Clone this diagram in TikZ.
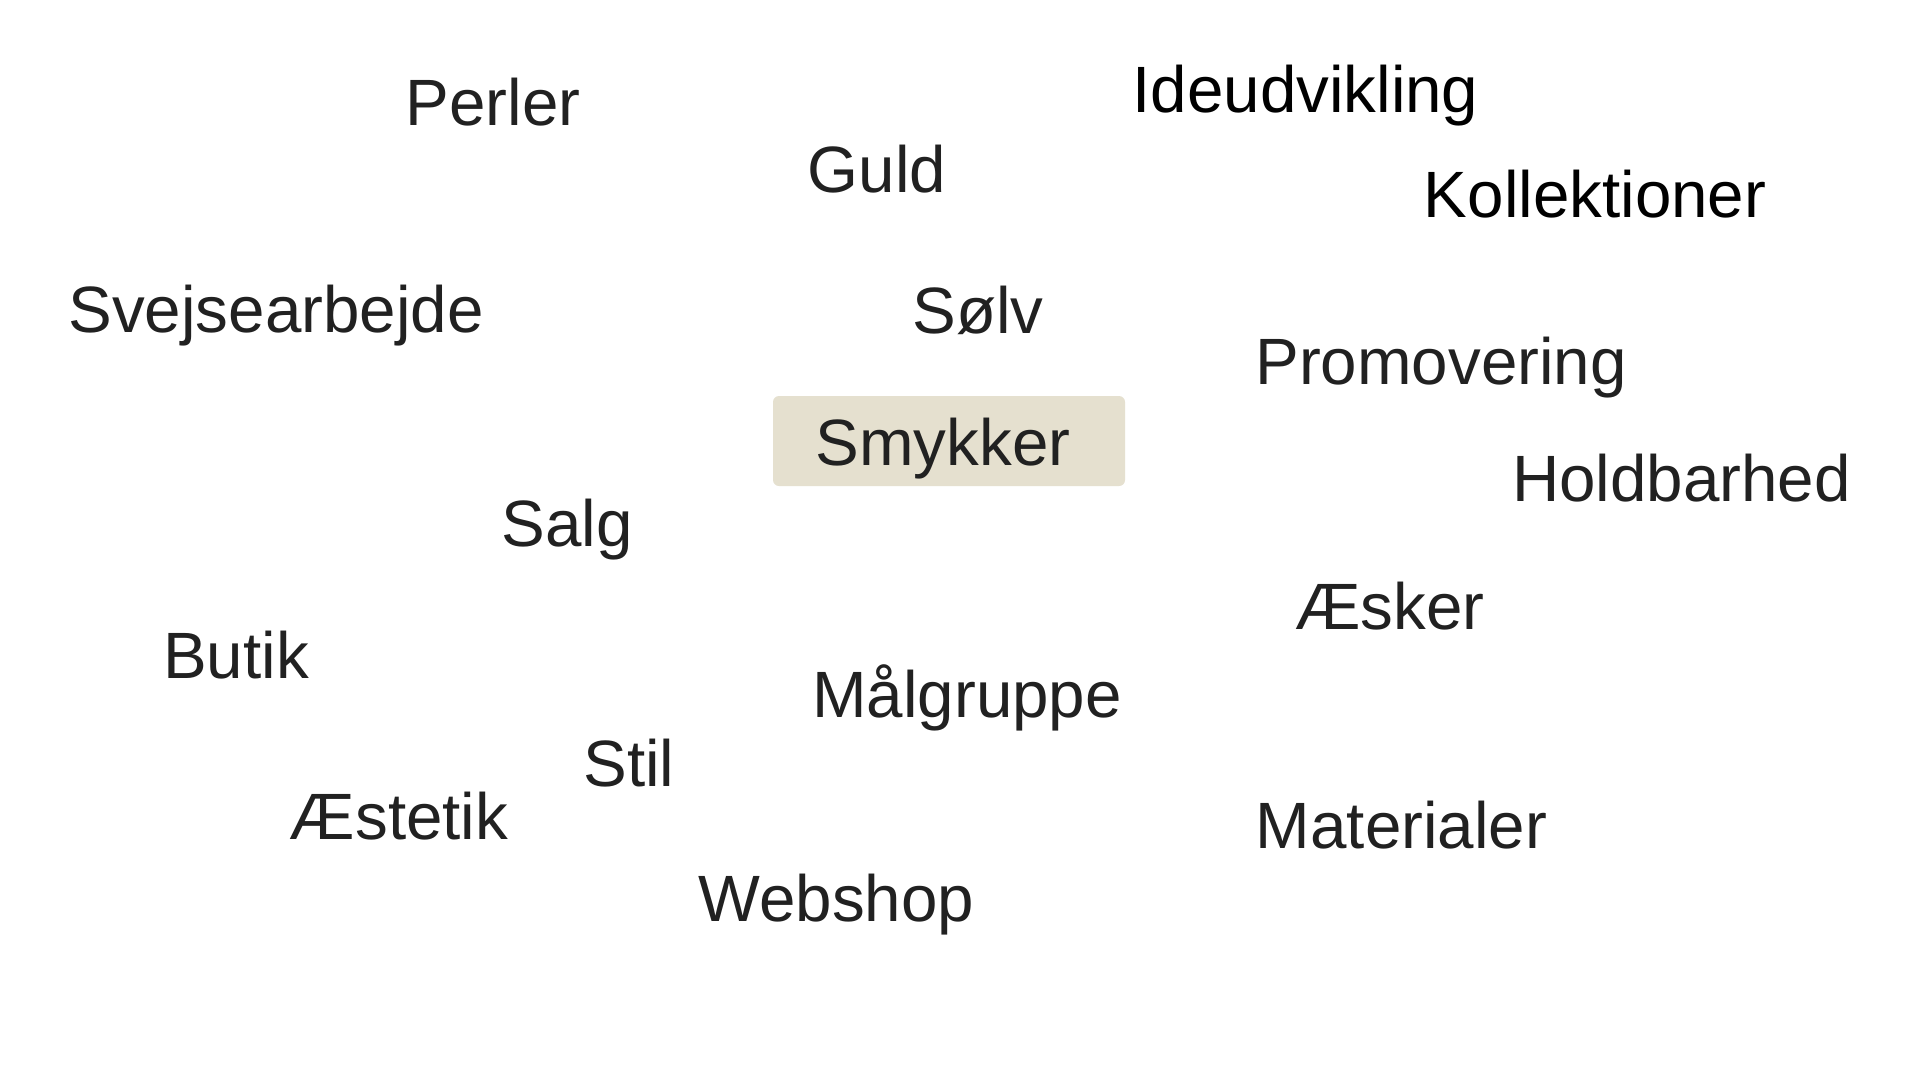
\documentclass[tikz,border=0pt]{standalone}
\usepackage{fontspec}
\setmainfont{Liberation Sans}
\definecolor{ink}{HTML}{212121}
\definecolor{boxfill}{HTML}{E5E0CF}
\begin{document}
\begin{tikzpicture}[x=1pt,y=1pt,
  word/.style={anchor=base,inner sep=0pt,text=ink,font=\fontsize{65.5}{75}\selectfont},
  centerbox/.style={fill=boxfill,rounded corners=6pt,draw=none}]
\useasboundingbox (0,0) rectangle (1920,-1080);
\fill[white] (0,0) rectangle (1920,-1080);
\node[centerbox,minimum width=352pt,minimum height=90pt,inner sep=0pt] (box) at (949,-441) {};
\node[word] (smykker) at (943,-465) {Smykker};
\node[word] (perler) at (493,-125) {Perler};
\node[word] (guld) at (877,-192) {Guld};
\node[word,text=black] (ideud) at (1305.5,-112) {Ideudvikling};
\node[word,text=black] (koll) at (1595,-217) {Kollektioner};
\node[word] (svejs) at (276,-332) {Svejsearbejde};
\node[word] (solv) at (978,-333) {Sølv};
\node[word] (promo) at (1441,-384.5) {Promovering};
\node[word] (hold) at (1681.5,-501) {Holdbarhed};
\node[word] (salg) at (567,-546) {Salg};
\node[word] (esker) at (1390,-629) {Æsker};
\node[word] (butik) at (236,-678) {Butik};
\node[word] (maal) at (967,-717.5) {Målgruppe};
\node[word] (stil) at (629,-786) {Stil};
\node[word] (aestetik) at (399,-839) {Æstetik};
\node[word] (mater) at (1401.5,-848) {Materialer};
\node[word] (web) at (836.5,-921) {Webshop};
\end{tikzpicture}
\end{document}
